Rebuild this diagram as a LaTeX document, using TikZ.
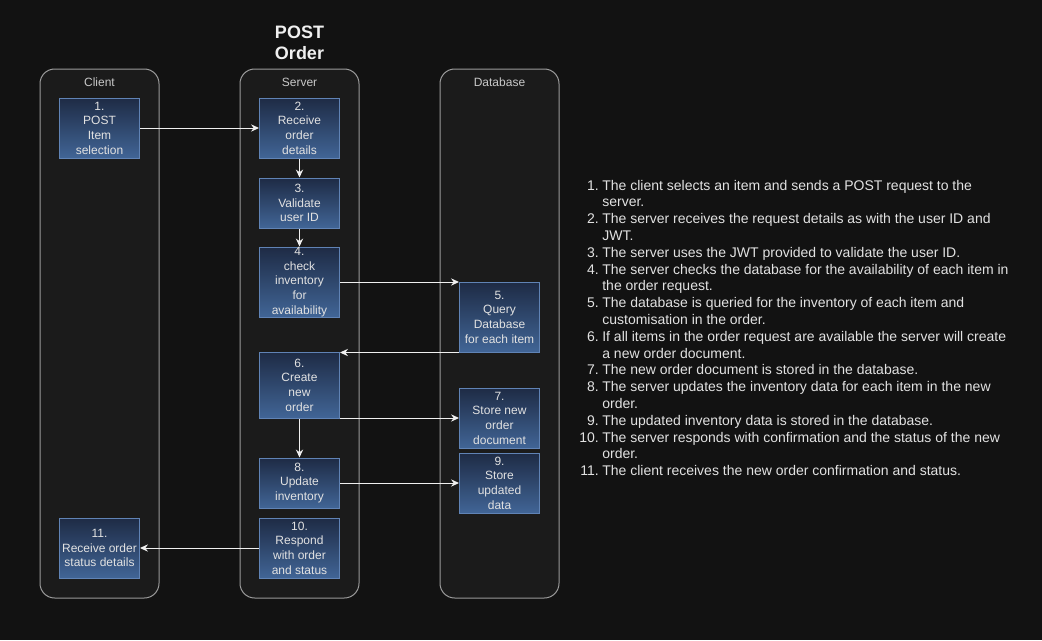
\documentclass[tikz,border=0pt]{standalone}
\usepackage{fontspec}
\setmainfont{Liberation Sans}
\usetikzlibrary{arrows.meta,positioning,calc}
\definecolor{bgdark}{HTML}{121212}
\definecolor{lanefill}{HTML}{1B1B1B}
\definecolor{laneline}{HTML}{9A9A9A}
\definecolor{lanetext}{HTML}{C8C8C8}
\definecolor{boxtop}{HTML}{1E2B45}
\definecolor{boxbot}{HTML}{416596}
\definecolor{boxline}{HTML}{6083B5}
\definecolor{txtgray}{HTML}{E2E2E2}

\begin{document}
\begin{tikzpicture}[x=0.75pt,y=-0.75pt,
    lane/.style={draw=laneline, fill=lanefill, rounded corners=11pt, line width=0.75pt,
        minimum width=89.25pt, minimum height=396.75pt},
    lanelabel/.style={text=lanetext, font=\fontsize{9}{10}\selectfont},
    stepbox/.style={draw=boxline, top color=boxtop, bottom color=boxbot, line width=0.75pt,
        minimum width=60pt, inner sep=0pt, align=center, text=txtgray,
        font=\fontsize{9}{11}\selectfont},
    flow/.style={draw=white!94!black, line width=0.75pt,
        -{Stealth[length=6pt,width=5.5pt,inset=2pt]}}]
    % background and margins
    \fill[bgdark] (0,0) rectangle (1042,640);
    \useasboundingbox (0,0) rectangle (1042,640);

    \node[text=white!94!black, align=center, font=\bfseries\fontsize{13.5}{15.75}\selectfont] (title) at (299.5,42.5) {POST\\Order};

    % Lanes
    \node[lane] (client) at (99.5,333.5) {};
    \node[lane] (server) at (299.5,333.5) {};
    \node[lane] (db) at (499.5,333.5) {};
    \node[lanelabel] (clientlbl) at (99.5,82) {Client};
    \node[lanelabel] (serverlbl) at (299.5,82) {Server};
    \node[lanelabel] (dblbl) at (499.5,82) {Database};

    % Steps
    \node[stepbox, minimum height=45pt] (b1) at (99.5,128) {1.\\POST\\Item\\selection};
    \node[stepbox, minimum height=45pt] (b2) at (299.5,128) {2.\\Receive\\order\\details};
    \node[stepbox, minimum height=37.5pt] (b3) at (299.5,203) {3.\\Validate\\user ID};
    \node[stepbox, minimum height=52.5pt] (b4) at (299.5,282) {4.\\check\\inventory\\for\\availability};
    \node[stepbox, minimum height=52.5pt] (b5) at (499.5,317) {5.\\Query\\Database\\for each item};
    \node[stepbox, minimum height=49.5pt] (b6) at (299.5,385) {6.\\Create\\new\\order};
    \node[stepbox, minimum height=45pt] (b7) at (499.5,418) {7.\\Store new\\order\\document};
    \node[stepbox, minimum height=37.5pt] (b8) at (299.5,483) {8.\\Update\\inventory};
    \node[stepbox, minimum height=45pt] (b9) at (499.5,483) {9.\\Store\\updated\\data};
    \node[stepbox, minimum height=45pt] (b10) at (299.5,548) {10.\\Respond\\with order\\and status};
    \node[stepbox, minimum height=45pt] (b11) at (99.5,548) {11.\\Receive order\\status details};

    % Connectors
    \draw[flow] (b1) -- (b2);
    \draw[flow] (b2) -- (b3);
    \draw[flow] (b3) -- (b4);
    \draw[flow] (b4.east) -- (b4.east -| b5.west);
    \draw[flow] (b5.south west) -- (b5.south west -| b6.east);
    \draw[flow] (b7.west -| b6.east) -- (b7.west);
    \draw[flow] (b6) -- (b8);
    \draw[flow] (b8) -- (b9);
    \draw[flow] (b10) -- (b11);

    % Step notes
    \node[anchor=north west, inner sep=0pt, text=txtgray, font=\fontsize{10.5}{12.6}\selectfont] (notes) at (579,178) {%
        \begin{tabular}{@{}r@{\hspace{2.7pt}}l@{}}
        1. & The client selects an item and sends a POST request to the\\
           & server.\\
        2. & The server receives the request details as with the user ID and\\
           & JWT.\\
        3. & The server uses the JWT provided to validate the user ID.\\
        4. & The server checks the database for the availability of each item in\\
           & the order request.\\
        5. & The database is queried for the inventory of each item and\\
           & customisation in the order.\\
        6. & If all items in the order request are available the server will create\\
           & a new order document.\\
        7. & The new order document is stored in the database.\\
        8. & The server updates the inventory data for each item in the new\\
           & order.\\
        9. & The updated inventory data is stored in the database.\\
        10. & The server responds with confirmation and the status of the new\\
            & order.\\
        11. & The client receives the new order confirmation and status.
        \end{tabular}};
\end{tikzpicture}
\end{document}
